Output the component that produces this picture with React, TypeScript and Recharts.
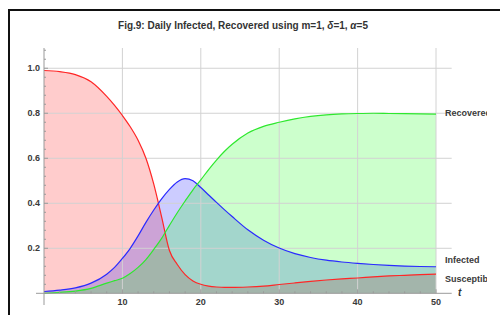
import { Area, ComposedChart, Line, ReferenceLine, XAxis, YAxis } from "recharts";

const T = [0, 2, 4, 6, 8, 9, 10, 11, 12, 13, 14, 15, 16, 17, 18, 19, 20, 21, 22, 23, 24, 26, 28, 30, 32, 34, 36, 38, 40, 42, 44, 46, 48, 50];

const SUSCEPTIBLE = [
  0.99, 0.985, 0.972, 0.94, 0.875, 0.835, 0.79, 0.74, 0.68, 0.6, 0.485, 0.34, 0.19, 0.128, 0.083, 0.055, 0.04,
  0.032, 0.028, 0.026, 0.026, 0.028, 0.032, 0.039, 0.046, 0.053, 0.059, 0.064, 0.068, 0.073, 0.077, 0.08, 0.083, 0.085,
];

const INFECTED = [
  0.008, 0.014, 0.024, 0.045, 0.085, 0.115, 0.155, 0.2, 0.255, 0.315, 0.37, 0.42, 0.462, 0.495, 0.51, 0.5, 0.47,
  0.437, 0.404, 0.372, 0.341, 0.282, 0.236, 0.201, 0.176, 0.159, 0.147, 0.139, 0.133, 0.128, 0.124, 0.121, 0.119, 0.118,
];

const RECOVERED = [
  0, 0.004, 0.01, 0.022, 0.045, 0.056, 0.067, 0.088, 0.115, 0.15, 0.195, 0.244, 0.302, 0.358, 0.41, 0.46, 0.504,
  0.55, 0.592, 0.63, 0.662, 0.712, 0.742, 0.76, 0.775, 0.786, 0.793, 0.797, 0.799, 0.8, 0.799, 0.798, 0.797, 0.796,
];

const X_MAJOR = [10, 20, 30, 40, 50];
const Y_MAJOR = [0.2, 0.4, 0.6, 0.8, 1.0];
const X_TICKS = Array.from({ length: 25 }, (_, i) => (i + 1) * 2);
const Y_TICKS = Array.from({ length: 27 }, (_, i) => Math.round((i + 1) * 4) / 100);

const data = T.map((t, i) => ({ t, s: SUSCEPTIBLE[i], inf: INFECTED[i], r: RECOVERED[i] }));

const FONT = '"Liberation Sans", Arial, sans-serif';
const AXIS = "#9a9a9a";
const GRID = "#d2d2d2";
const TEXT = "#3a3a3a";

const SERIES = [
  { key: "s", line: "#ff2626", fill: "#ff0000" },
  { key: "inf", line: "#2a2aff", fill: "#0000ff" },
  { key: "r", line: "#2ee82e", fill: "#00ff00" },
];

function XTick({ x, y, payload }: any) {
  const major = payload.value % 10 === 0;
  return (
    <g>
      <line x1={x} y1={y} x2={x} y2={y - (major ? 4 : 2)} stroke={AXIS} />
      {major && (
        <text x={x} y={y + 11.5} textAnchor="middle" fontSize={9} fontWeight="bold" fill={TEXT} fontFamily={FONT}>
          {payload.value}
        </text>
      )}
    </g>
  );
}

function YTick({ x, y, payload }: any) {
  const v = payload.value;
  const major = Math.abs(v * 5 - Math.round(v * 5)) < 1e-6;
  return (
    <g>
      <line x1={x} y1={y} x2={x + (major ? 4 : 2)} y2={y} stroke={AXIS} />
      {major && (
        <text x={x - 4} y={y + 3} textAnchor="end" fontSize={9} fontWeight="bold" fill={TEXT} fontFamily={FONT}>
          {v.toFixed(1)}
        </text>
      )}
    </g>
  );
}

const labelStyle: React.CSSProperties = {
  position: "absolute",
  left: 0,
  fontSize: 9,
  fontWeight: "bold",
  color: TEXT,
  whiteSpace: "nowrap",
  lineHeight: "10px",
};

export default function App() {
  return (
    <div style={{ position: "absolute", left: 0, top: 0, width: 500, height: 315, overflow: "hidden", background: "#fff", fontFamily: FONT }}>
      <div
        style={{
          position: "absolute",
          left: 8,
          top: 9,
          width: 600,
          height: 400,
          borderLeft: "2px solid #111",
          borderTop: "2px solid #111",
        }}
      />
      <div
        style={{
          position: "absolute",
          left: 0,
          width: 486,
          top: 20,
          textAlign: "center",
          fontSize: 10,
          fontWeight: "bold",
          color: "#333",
          lineHeight: "12px",
        }}
      >
        Fig.9: Daily Infected, Recovered using m=1, <i>δ</i>=1, <i>α</i>=5
      </div>
      <div style={{ position: "absolute", left: 0, top: 0 }}>
        <ComposedChart width={500} height={315} data={data} margin={{ top: 48, right: 48.3, bottom: 0, left: 0 }}>
          <XAxis
            dataKey="t"
            type="number"
            domain={[0, 52]}
            ticks={X_TICKS}
            interval={0}
            height={21.7}
            axisLine={false}
            tickLine={false}
            tickSize={0}
            tickMargin={0}
            tick={<XTick />}
          />
          <YAxis
            type="number"
            domain={[0, 1.09]}
            ticks={Y_TICKS}
            interval={0}
            width={44}
            axisLine={false}
            tickLine={false}
            tickSize={0}
            tickMargin={0}
            tick={<YTick />}
          />
          {Y_MAJOR.map((v) => (
            <ReferenceLine key={"h" + v} y={v} stroke={GRID} />
          ))}
          {X_MAJOR.map((v) => (
            <ReferenceLine key={"v" + v} segment={[{ x: v, y: 0 }, { x: v, y: 1.09 }]} stroke={GRID} />
          ))}
          {SERIES.map((s) => (
            <Area
              key={"a" + s.key}
              type="monotone"
              dataKey={s.key}
              stroke="none"
              fill={s.fill}
              fillOpacity={0.2}
              dot={false}
              activeDot={false}
              isAnimationActive={false}
            />
          ))}
          {SERIES.map((s) => (
            <Line
              key={"l" + s.key}
              type="monotone"
              dataKey={s.key}
              stroke={s.line}
              strokeWidth={1.2}
              dot={false}
              activeDot={false}
              isAnimationActive={false}
            />
          ))}
          <ReferenceLine segment={[{ x: -1.02, y: 0 }, { x: 52, y: 0 }]} stroke={AXIS} ifOverflow="visible" />
          <ReferenceLine segment={[{ x: 0, y: -0.052 }, { x: 0, y: 1.09 }]} stroke={AXIS} ifOverflow="visible" />
        </ComposedChart>
      </div>
      <div style={{ position: "absolute", left: 445, top: 0, width: 42, height: 315, overflow: "hidden" }}>
        <div style={{ ...labelStyle, top: 108 }}>Recovered</div>
        <div style={{ ...labelStyle, top: 255 }}>Infected</div>
        <div style={{ ...labelStyle, top: 274 }}>Susceptible</div>
      </div>
      <div
        style={{
          position: "absolute",
          left: 458,
          top: 287,
          fontSize: 10,
          fontWeight: "bold",
          fontStyle: "italic",
          color: "#333",
          lineHeight: "12px",
        }}
      >
        t
      </div>
    </div>
  );
}
